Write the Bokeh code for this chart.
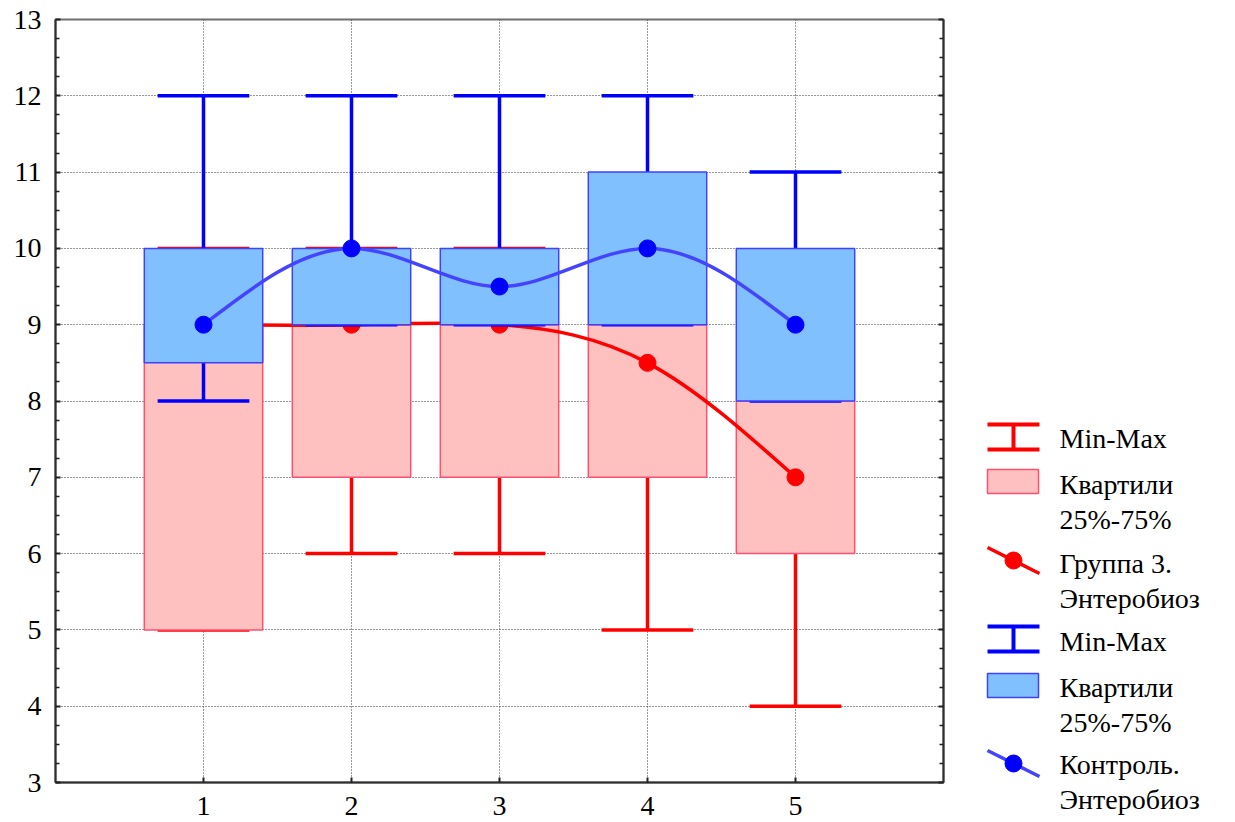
import numpy as np
from bokeh.plotting import figure
from bokeh.models import Range1d, FixedTicker, LinearAxis, Label
from bokeh.layouts import row
from bokeh.embed import file_html
from bokeh.resources import INLINE

# ---------------- data ----------------
categories = [1, 2, 3, 4, 5]
tick_labels = ["1", "2", "3", "4", "5"]

# Группа 3. Энтеробиоз (red)
red_median = [9, 9, 9, 8.5, 7]
red_q1 = [5, 7, 7, 7, 6]
red_q3 = [9, 9, 9, 9, 8]
red_min = [5, 6, 6, 5, 4]
red_max = [10, 10, 10, 10, 9]

# Контроль. Энтеробиоз (blue)
blue_median = [9, 10, 9.5, 10, 9]
blue_q1 = [8.5, 9, 9, 9, 8]
blue_q3 = [10, 10, 10, 11, 10]
blue_min = [8, 9, 9, 9, 8]
blue_max = [12, 12, 12, 12, 11]

legend_labels = [
    ["Min-Max"],
    ["Квартили", "25%-75%"],
    ["Группа 3.", "Энтеробиоз"],
    ["Min-Max"],
    ["Квартили", "25%-75%"],
    ["Контроль.", "Энтеробиоз"],
]

# ---------------- styles ----------------
FONT = "Liberation Serif"
RED = "#FF0000"
RED_FILL = "#FFC0C0"
RED_EDGE = "#FF5070"
BLUE = "#0000FF"
BLUE_FILL = "#80C0FF"
BLUE_EDGE = "#4040FF"
BLUE_LINE = "#4444FF"
BOX_HALF = 0.4
CAP_HALF = 0.31


def natural_spline_beziers(xs, ys):
    xs = np.asarray(xs, float)
    ys = np.asarray(ys, float)
    n = len(xs)
    h = np.diff(xs)
    A = np.zeros((n, n))
    b = np.zeros(n)
    A[0, 0] = 1
    A[-1, -1] = 1
    for i in range(1, n - 1):
        A[i, i - 1] = h[i - 1]
        A[i, i] = 2 * (h[i - 1] + h[i])
        A[i, i + 1] = h[i]
        b[i] = 6 * ((ys[i + 1] - ys[i]) / h[i] - (ys[i] - ys[i - 1]) / h[i - 1])
    M = np.linalg.solve(A, b)
    x0, y0, x1, y1, cx0, cy0, cx1, cy1 = ([] for _ in range(8))
    for i in range(n - 1):
        hi = h[i]
        s = (ys[i + 1] - ys[i]) / hi
        m0 = s - hi * (2 * M[i] + M[i + 1]) / 6
        m1 = s + hi * (M[i] + 2 * M[i + 1]) / 6
        x0.append(xs[i]); y0.append(ys[i])
        x1.append(xs[i + 1]); y1.append(ys[i + 1])
        cx0.append(xs[i] + hi / 3); cy0.append(ys[i] + m0 * hi / 3)
        cx1.append(xs[i + 1] - hi / 3); cy1.append(ys[i + 1] - m1 * hi / 3)
    return dict(x0=x0, y0=y0, x1=x1, y1=y1, cx0=cx0, cy0=cy0, cx1=cx1, cy1=cy1)


x = np.array(categories, float)

PW, PH = 947, 820
TOP, BOTTOM = 19, 782
p = figure(width=PW, height=PH, x_range=Range1d(0, 6), y_range=Range1d(3, 13),
           output_backend="svg", toolbar_location=None,
           min_border_left=55, min_border_right=4, min_border_top=TOP, min_border_bottom=PH - BOTTOM)
p.background_fill_color = "white"
p.border_fill_color = "white"
p.outline_line_color = "#707070"
p.outline_line_width = 2

yticks = list(range(3, 14))
yminor = [t + f for t in range(3, 13) for f in (0.25, 0.5, 0.75)]
p.yaxis.ticker = FixedTicker(ticks=yticks, minor_ticks=yminor)
p.xaxis.ticker = FixedTicker(ticks=categories)
p.xaxis.major_label_overrides = {c: l for c, l in zip(categories, tick_labels)}

for ax in (p.xaxis[0], p.yaxis[0]):
    ax.axis_line_color = "#303030"
    ax.axis_line_width = 2
    ax.major_tick_in = 5
    ax.major_tick_out = 0
    ax.major_tick_line_color = "#202020"
    ax.major_tick_line_width = 2
    ax.minor_tick_in = 4
    ax.minor_tick_out = 0
    ax.minor_tick_line_color = "#202020"
    ax.minor_tick_line_width = 1.5
    ax.major_label_text_font = FONT
    ax.major_label_text_font_size = "28px"
    ax.major_label_text_color = "black"
p.xaxis.minor_tick_line_color = None
p.xaxis.major_label_standoff = 14
p.xaxis.major_label_text_line_height = 0.7
p.yaxis.major_label_standoff = 14

rax = LinearAxis(ticker=FixedTicker(ticks=yticks, minor_ticks=yminor))
rax.axis_line_color = "#303030"
rax.axis_line_width = 2
rax.major_tick_in = 5
rax.major_tick_out = 0
rax.major_tick_line_color = "#202020"
rax.major_tick_line_width = 2
rax.minor_tick_in = 4
rax.minor_tick_out = 0
rax.minor_tick_line_color = "#202020"
rax.minor_tick_line_width = 1.5
rax.major_label_overrides = {t: "" for t in yticks}
rax.major_label_text_font_size = "1px"
rax.major_label_standoff = 0
p.add_layout(rax, "right")

p.grid.grid_line_color = "#303030"
p.grid.grid_line_dash = "1 2"
p.grid.grid_line_width = 1

WH_W = 3.5

# red whiskers
p.segment(x, red_min, x, red_max, line_color=RED, line_width=WH_W)
p.segment(x - CAP_HALF, red_min, x + CAP_HALF, red_min, line_color=RED, line_width=WH_W)
p.segment(x - CAP_HALF, red_max, x + CAP_HALF, red_max, line_color=RED, line_width=WH_W)
# red boxes
p.quad(left=x - BOX_HALF, right=x + BOX_HALF, bottom=red_q1, top=red_q3,
       fill_color=RED_FILL, line_color=RED_EDGE, line_width=1.5)
# red median spline + dots
rb = natural_spline_beziers(x, red_median)
p.bezier(x0="x0", y0="y0", x1="x1", y1="y1", cx0="cx0", cy0="cy0", cx1="cx1", cy1="cy1",
         source=rb, line_color=RED, line_width=3.5)
p.scatter(x, red_median, size=17, fill_color=RED, line_color=RED)

# blue whiskers
p.segment(x, blue_min, x, blue_max, line_color=BLUE, line_width=WH_W)
p.segment(x - CAP_HALF, blue_min, x + CAP_HALF, blue_min, line_color=BLUE, line_width=WH_W)
p.segment(x - CAP_HALF, blue_max, x + CAP_HALF, blue_max, line_color=BLUE, line_width=WH_W)
# blue boxes
p.quad(left=x - BOX_HALF, right=x + BOX_HALF, bottom=blue_q1, top=blue_q3,
       fill_color=BLUE_FILL, line_color=BLUE_EDGE, line_width=1.5)
# blue median spline + dots
bb = natural_spline_beziers(x, blue_median)
p.bezier(x0="x0", y0="y0", x1="x1", y1="y1", cx0="cx0", cy0="cy0", cx1="cx1", cy1="cy1",
         source=bb, line_color=BLUE_LINE, line_width=3.5)
p.scatter(x, blue_median, size=17, fill_color=BLUE, line_color=BLUE)

# ---------------- legend (separate figure; full-size frame; page-pixel coords, y downward) ----
LW = 1235 - PW
OX = PW  # page x of legend figure
lg = figure(width=LW, height=PH, x_range=Range1d(OX, OX + LW), y_range=Range1d(PH, 0),
            output_backend="svg", toolbar_location=None,
            min_border=0, min_border_left=0, min_border_right=0,
            min_border_top=0, min_border_bottom=0)
try:
    lg.frame_align = False
except Exception:
    pass
lg.axis.visible = False
lg.grid.visible = False
lg.outline_line_color = None
lg.background_fill_color = "white"
lg.border_fill_color = "white"

sx0, sx1, sxm = 987, 1039, 1013
text_x = 1059
line_gap = 35


def legend_minmax(y_top, color):
    lg.segment([sx0, sx0, sxm], [y_top, y_top + 25, y_top], [sx1, sx1, sxm],
               [y_top, y_top + 25, y_top + 25], line_color=color, line_width=4)


def legend_box(y_top, fill, edge):
    lg.quad(left=[sx0], right=[sx1 - 1], top=[y_top], bottom=[y_top + 24],
            fill_color=fill, line_color=edge, line_width=1.5)


def legend_line(y_mid, lcolor, dcolor):
    lg.segment([sx0], [y_mid - 13], [sx1], [y_mid + 13], line_color=lcolor, line_width=3.5)
    lg.scatter([sxm], [y_mid], size=17, fill_color=dcolor, line_color=dcolor)


def legend_text(lines, baseline):
    for i, t in enumerate(lines):
        lg.add_layout(Label(x=text_x, y=baseline + i * line_gap, text=t,
                            text_font=FONT, text_font_size="28px", text_color="black",
                            text_baseline="alphabetic", text_align="left"))


legend_minmax(424, RED)
legend_text(legend_labels[0], 438)
legend_box(469, RED_FILL, RED_EDGE)
legend_text(legend_labels[1], 484)
legend_line(560, RED, RED)
legend_text(legend_labels[2], 563)
legend_minmax(626, BLUE)
legend_text(legend_labels[3], 641)
legend_box(673, BLUE_FILL, BLUE_EDGE)
legend_text(legend_labels[4], 687)
legend_line(763, BLUE_LINE, BLUE)
legend_text(legend_labels[5], 764)

layout = row(p, lg)
open("out.html", "w").write(file_html(layout, INLINE))
